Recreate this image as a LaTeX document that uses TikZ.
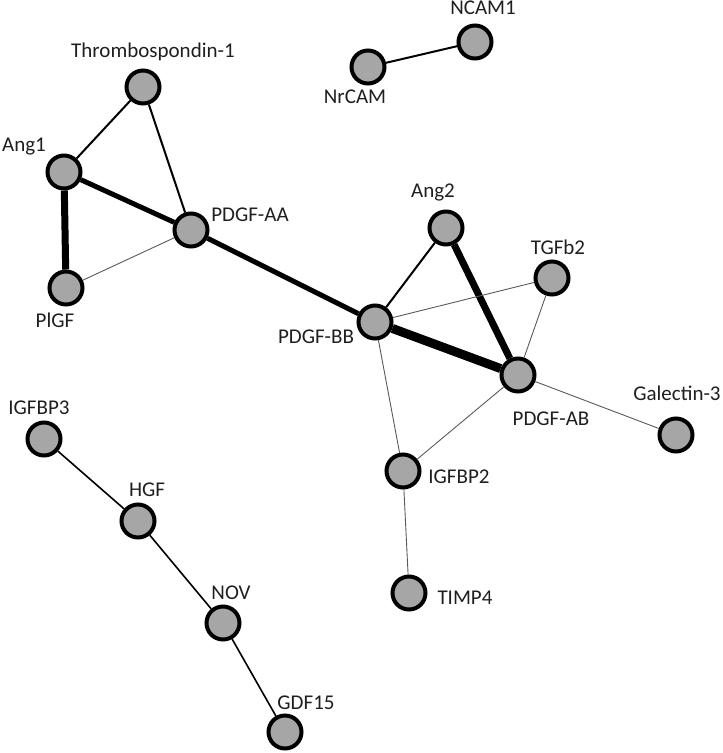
\documentclass[tikz,border=0pt]{standalone}
\usepackage{fontspec}
\setmainfont{Carlito}
\begin{document}
\begin{tikzpicture}[x=1pt,y=-1pt,
  prot/.style={circle,draw=black,line width=4pt,fill=nodegray,minimum size=33pt,inner sep=0pt},
  lbl/.style={inner sep=0pt,text=black!88,font=\fontsize{21}{25}\selectfont},
  wthin/.style={line width=0.9pt,draw=black!65},
  wmed/.style={line width=2pt,draw=black},
  wthick/.style={line width=5pt,draw=black},
  wheavy/.style={line width=7pt,draw=black},
  wmax/.style={line width=9pt,draw=black}]
\definecolor{nodegray}{HTML}{A6A6A6}
\useasboundingbox (0,0) rectangle (723,753);
% nodes
\node[prot] (thr) at (143,87) {};
\node[prot] (ang1) at (64,172) {};
\node[prot] (pdaa) at (191,230) {};
\node[prot] (plgf) at (66,288) {};
\node[prot] (ncam) at (475,42) {};
\node[prot] (nrcam) at (368,67) {};
\node[prot] (ang2) at (446,228) {};
\node[prot] (tgf) at (552,278) {};
\node[prot] (pdbb) at (375,322) {};
\node[prot] (pdab) at (518,375) {};
\node[prot] (gal) at (676,435) {};
\node[prot] (igf2) at (403,471) {};
\node[prot] (timp) at (409,593) {};
\node[prot] (igf3) at (44,439) {};
\node[prot] (hgf) at (138,521) {};
\node[prot] (nov) at (223,623) {};
\node[prot] (gdf) at (285,732) {};
% labels
\node[lbl] (lthr) at (153,52) {Thrombospondin-1};
\node[lbl] (lang1) at (24,147) {Ang1};
\node[lbl] (lpdaa) at (250,215) {PDGF-AA};
\node[lbl] (lplgf) at (55,320) {PlGF};
\node[lbl] (lncam) at (483,8) {NCAM1};
\node[lbl] (lnrcam) at (355,97) {NrCAM};
\node[lbl] (lang2) at (433,192) {Ang2};
\node[lbl] (ltgf) at (558,247) {TGFb2};
\node[lbl] (lpdbb) at (316,337) {PDGF-BB};
\node[lbl] (lpdab) at (551,419) {PDGF-AB};
\node[lbl] (lgal) at (677,393) {Galectin-3};
\node[lbl] (ligf2) at (459,477) {IGFBP2};
\node[lbl] (ltimp) at (465,598) {TIMP4};
\node[lbl] (ligf3) at (39,408) {IGFBP3};
\node[lbl] (lhgf) at (147,490) {HGF};
\node[lbl] (lnov) at (231,593) {NOV};
\node[lbl] (lgdf) at (306,703) {GDF15};
% edges
\draw[wmed] (thr) -- (ang1);
\draw[wmed] (thr) -- (pdaa);
\draw[wthick] (ang1) -- (pdaa);
\draw[wheavy] (ang1) -- (plgf);
\draw[wthin] (plgf) -- (pdaa);
\draw[wthick] (pdaa) -- (pdbb);
\draw[wmed] (pdbb) -- (ang2);
\draw[wheavy] (ang2) -- (pdab);
\draw[wmax] (pdbb) -- (pdab);
\draw[wthin] (pdbb) -- (tgf);
\draw[wthin] (tgf) -- (pdab);
\draw[wthin] (pdab) -- (gal);
\draw[wthin] (pdbb) -- (igf2);
\draw[wthin] (pdab) -- (igf2);
\draw[wthin] (igf2) -- (timp);
\draw[wmed] (nrcam) -- (ncam);
\draw[line width=1.6pt] (igf3) -- (hgf);
\draw[line width=1.6pt] (hgf) -- (nov);
\draw[line width=1.6pt] (nov) -- (gdf);
\end{tikzpicture}
\end{document}
